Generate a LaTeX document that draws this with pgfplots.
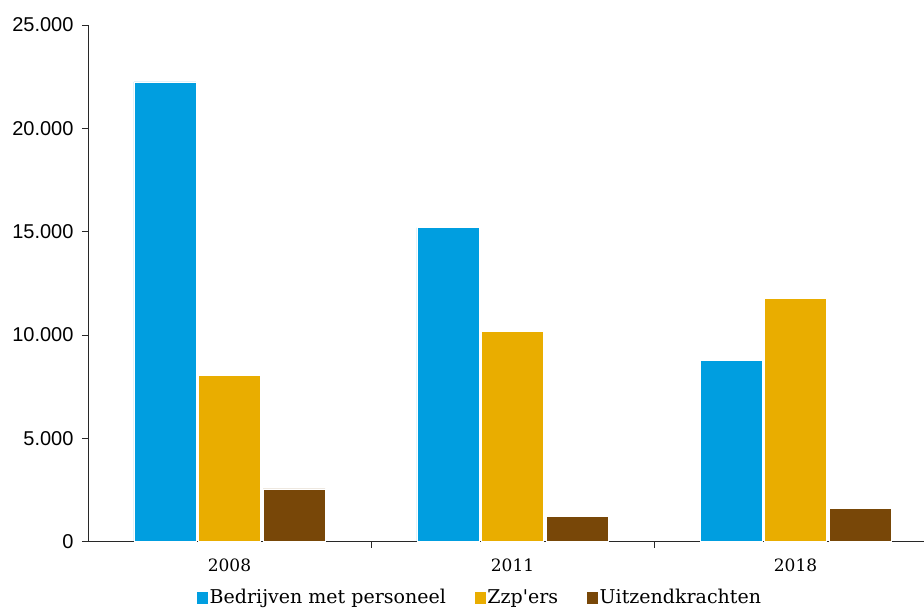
\documentclass[border=0pt]{standalone}
\usepackage{fontspec}
\setmainfont{DejaVu Serif}
\newfontfamily\tickfont{Liberation Sans}
\usepackage{pgfplots}
\pgfplotsset{compat=1.18}
\definecolor{cbsblue}{RGB}{0,158,224}
\definecolor{cbsgold}{RGB}{233,173,0}
\definecolor{cbsbrown}{RGB}{120,71,8}
\definecolor{axisgray}{RGB}{40,40,40}
\begin{document}
\begin{tikzpicture}[x=1pt,y=1pt]
\useasboundingbox (0,0) rectangle (924,609);
\begin{axis}[
  at={(88pt,67.3pt)}, anchor=south west,
  scale only axis, width=836pt, height=516.7pt,
  xmin=-0.5, xmax=2.454, ymin=0, ymax=25000,
  scaled y ticks=false,
  ybar, bar width=0.219,
  axis x line=bottom, axis y line=left,
  axis line style={-, draw=axisgray, line width=0.9pt},
  tick align=outside,
  tick style={draw=axisgray, line width=0.9pt},
  major tick length=6pt,
  ytick={0,5000,10000,15000,20000,25000},
  yticklabels={0,5.000,10.000,15.000,20.000,25.000},
  yticklabel style={font=\tickfont\fontsize{20}{20}\selectfont, xshift=-5pt},
  xtick={0.5,1.5}, xticklabels={},
  extra x ticks={0,1,2},
  extra x tick labels={2008,2011,2018},
  extra x tick style={tick style={draw=none}, major tick length=0pt,
     xticklabel style={font=\fontsize{17}{17}\selectfont, yshift=-14pt}},
  legend style={at={(0.469,-0.108)}, anchor=center, draw=none, fill=none,
     legend columns=3, font=\fontsize{19}{19}\selectfont,
     /tikz/every even column/.append style={column sep=27pt}},
]
\addplot[fill=cbsblue, draw=white, line width=0.6pt, bar shift=-0.228,
  legend image code/.code={\fill[cbsblue] (0pt,-5.5pt) rectangle (10pt,5.5pt);}]
  coordinates {(0,22250) (1,15190) (2,8780)};
\addplot[fill=cbsgold, draw=white, line width=0.6pt, bar shift=0,
  legend image code/.code={\fill[cbsgold] (0pt,-5.5pt) rectangle (10pt,5.5pt);}]
  coordinates {(0,8060) (1,10180) (2,11780)};
\addplot[fill=cbsbrown, draw=white, line width=0.6pt, bar shift=0.228,
  legend image code/.code={\fill[cbsbrown] (0pt,-5.5pt) rectangle (10pt,5.5pt);}]
  coordinates {(0,2550) (1,1240) (2,1620)};
\legend{Bedrijven met personeel, Zzp\textquotesingle ers, Uitzendkrachten}
\end{axis}
\end{tikzpicture}
\end{document}
